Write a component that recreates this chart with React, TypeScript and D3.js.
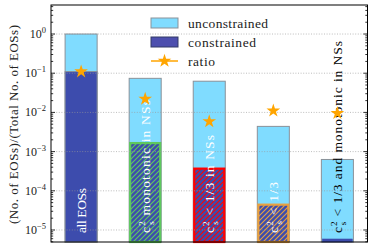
import * as d3 from 'd3'

const barKeys = ['all', 'mono', 'cs13', 'cs13only', 'both']
const unconstrained = [1.0, 0.074, 0.0625, 0.0044, 0.00063]
const constrained = [0.11, 0.00175, 0.00039, 0.000047, 0.0000059]
const ratio = [0.11, 0.022, 0.0059, 0.011, 0.0095]
const edgeColors = ['#8a9199', '#5ec85e', '#ff0000', '#e8a040', '#3d4cad']
const hatched = [false, true, true, true, false]
const textColors = ['#ffffff', '#ffffff', '#ffffff', '#ffffff', '#000000']
const barLabels: { cs: boolean, rest: string, len: number }[] = [
  { cs: false, rest: 'all EOSs', len: 45 },
  { cs: true, rest: ' monotonic in NSs', len: 133 },
  { cs: true, rest: ' < 1/3 in NSs', len: 98 },
  { cs: true, rest: ' < 1/3', len: 51 },
  { cs: true, rest: ' < 1/3 and monotonic in NSs', len: 192 },
]
const majorTicks = [0, -1, -2, -3, -4, -5]

const W = 374, H = 249
const left = 51, right = 367.5, top = 5, bottom = 242
const lightBlue = '#80dcff'
const darkBlue = '#3d4cad'
const font = "'Liberation Serif', 'DejaVu Serif', serif"

export default function App(){
  const y = d3.scaleLog().domain([4.94e-6, 5.5]).range([bottom, top])
  const x = d3.scalePoint<string>().domain(barKeys).range([left, right]).padding(0.47)
  const bw = x.step() * 0.5

  const minor: number[] = []
  for(let e = -6; e <= 0; e++){
    for(let m = 2; m <= 9; m++){
      const v = m * Math.pow(10, e)
      if(v >= y.domain()[0] && v <= y.domain()[1]) minor.push(v)
    }
  }
  const star = d3.symbol(d3.symbolStar, 58)()

  return (
    <svg width={W} height={H} style={{ position: 'absolute', left: 0, top: 0, fontFamily: font }}>
      <defs>
        {barKeys.map((k, i)=> (
          <pattern key={k} id={`hatch-${k}`} patternUnits="userSpaceOnUse" width={5} height={5}>
            <rect width={5} height={5} fill={darkBlue} />
            <path d="M-1,1 l2,-2 M0,5 l5,-5 M4,6 l2,-2" stroke={edgeColors[i]} strokeWidth={1.1} />
          </pattern>
        ))}
      </defs>
      <rect width={W} height={H} fill="#fff" />

      {/* bars */}
      {barKeys.map((k, i)=>{
        const cx = x(k)!
        return (
          <g key={k}>
            <rect x={cx - bw/2} y={y(unconstrained[i])} width={bw} height={bottom - y(unconstrained[i])}
              fill={lightBlue} stroke="#8a9199" strokeWidth={1} />
            <rect x={cx - bw/2 + (i > 0 ? 1 : 0)} y={y(constrained[i]) + (i > 0 && i < 4 ? 1 : 0)}
              width={bw - (i > 0 ? 2 : 0)} height={bottom - y(constrained[i]) - (i > 0 && i < 4 ? 1 : 0)}
              fill={hatched[i] ? `url(#hatch-${k})` : darkBlue}
              stroke={edgeColors[i]} strokeWidth={i === 0 ? 1 : i === 4 ? 0.5 : 2.2} />
          </g>
        )
      })}

      {/* grid */}
      <g stroke="#9a9a9a" strokeWidth={0.8} strokeDasharray="1,1.6" opacity={0.8}>
        {majorTicks.map(e=> (
          <line key={e} x1={left} x2={right} y1={y(Math.pow(10, e))} y2={y(Math.pow(10, e))} />
        ))}
      </g>

      {/* bar labels */}
      {barKeys.map((k, i)=>{
        const cx = x(k)! + 4.5
        const lb = barLabels[i]
        return (
          <text key={k} transform={`translate(${cx},233) rotate(-90)`} fill={textColors[i]} fontSize={13.5}
            textLength={lb.len} lengthAdjust="spacing">
            {lb.cs ? <>c<tspan fontSize={9} dy={-5}>2</tspan><tspan fontSize={9} dx={-4.5} dy={9}>s</tspan><tspan dy={-4}>{lb.rest}</tspan></> : lb.rest}
          </text>
        )
      })}

      {/* ratio stars */}
      {barKeys.map((k, i)=> (
        <path key={k} d={star ?? ''} transform={`translate(${x(k)!},${y(ratio[i])})`} fill="#ffa500" />
      ))}

      {/* frame */}
      <rect x={left} y={top} width={right - left} height={bottom - top} fill="none" stroke="#000" strokeWidth={1} />

      {/* ticks */}
      <g stroke="#000" strokeWidth={0.8}>
        {majorTicks.map(e=>{
          const yy = y(Math.pow(10, e))
          return <g key={e}>
            <line x1={left} x2={left + 4} y1={yy} y2={yy} />
            <line x1={right} x2={right - 4} y1={yy} y2={yy} />
          </g>
        })}
        {minor.map((v, j)=>{
          const yy = y(v)
          return <g key={j}>
            <line x1={left} x2={left + 2.2} y1={yy} y2={yy} />
            <line x1={right} x2={right - 2.2} y1={yy} y2={yy} />
          </g>
        })}
      </g>
      {majorTicks.map(e=>(
        <text key={e} x={46} y={y(Math.pow(10, e)) + 4} textAnchor="end" fontSize={12} fill="#222">
          10<tspan fontSize={8.5} dy={-5}>{e === 0 ? '0' : `\u2212${-e}`}</tspan>
        </text>
      ))}

      {/* y label */}
      <text transform={`translate(17.5,${(top + bottom)/2 + 1}) rotate(-90)`} textAnchor="middle" fontSize={13}
        textLength={199} lengthAdjust="spacing" fill="#222">(No. of EOSs)/(Total No. of EOSs)</text>

      {/* legend */}
      <g fontSize={13.5} fill="#222">
        <rect x={151} y={18} width={27} height={10} fill={lightBlue} stroke="#8a9199" strokeWidth={1} />
        <text x={188} y={27.5} textLength={80} lengthAdjust="spacing">unconstrained</text>
        <rect x={151} y={37} width={27} height={10} fill="#4d4fae" stroke="#333a66" strokeWidth={1} />
        <text x={188} y={46.5} textLength={68} lengthAdjust="spacing">constrained</text>
        <line x1={151} x2={178} y1={61} y2={61} stroke="#ffa500" strokeWidth={1.5} />
        <path d={star ?? ''} transform="translate(164.5,61)" fill="#ffa500" />
        <text x={188} y={65.5} textLength={27} lengthAdjust="spacing">ratio</text>
      </g>
    </svg>
  )
}
